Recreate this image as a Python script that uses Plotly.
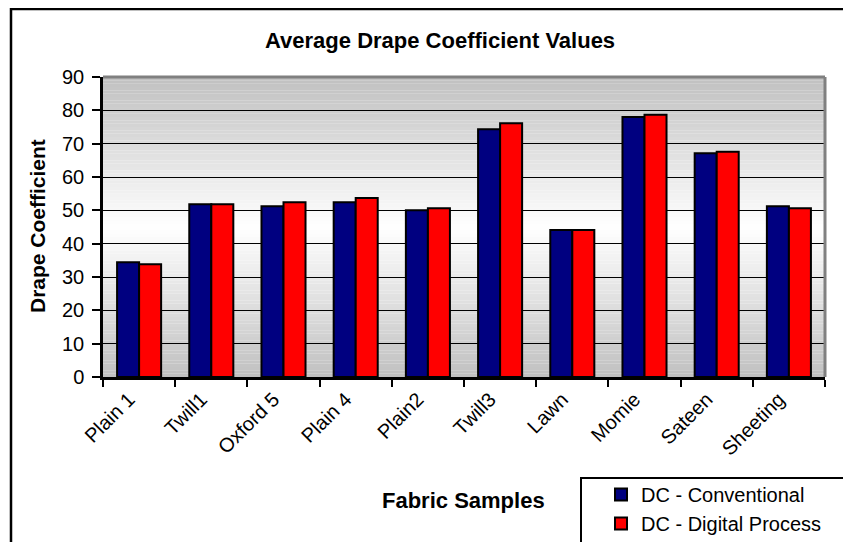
import plotly.graph_objects as go

categories = ["Plain 1", "Twill1", "Oxford 5", "Plain 4", "Plain2", "Twill3", "Lawn", "Momie", "Sateen", "Sheeting"]
dc_conventional = [34.4, 51.8, 51.2, 52.4, 50.0, 74.3, 44.1, 78.0, 67.1, 51.2]
dc_digital = [33.8, 51.8, 52.4, 53.7, 50.6, 76.1, 44.1, 78.7, 67.6, 50.6]
y_ticks = [0, 10, 20, 30, 40, 50, 60, 70, 80, 90]

FONT = "Liberation Sans, Arial, sans-serif"
OFF = 8  # page body margin
W, H = 851 - OFF, 542 - OFF
# plot area in page coordinates: x 103..825, y 77..377
L, T = 103 - OFF, 77 - OFF
R = W - (825 - OFF)
B = H - (377 - OFF)
PW, PH = W - L - R, H - T - B


def px(xp):
    return (xp - OFF - L) / PW


def py(yp):
    return (H - B - (yp - OFF)) / PH


fig = go.Figure()
fig.add_trace(go.Bar(name="DC - Conventional", x=categories, y=dc_conventional,
                     marker=dict(color="#000080", line=dict(color="black", width=2))))
fig.add_trace(go.Bar(name="DC - Digital Process", x=categories, y=dc_digital,
                     marker=dict(color="#FF0000", line=dict(color="black", width=2))))

shapes = []
# vertical gradient background (gray - white - gray)
for i in range(90):
    t = abs(i + 0.5 - 45) / 45.0
    c = int(round(255 - (255 - 192) * t))
    shapes.append(dict(type="rect", xref="x domain", yref="y", x0=0, x1=1, y0=i, y1=i + 1,
                       fillcolor=f"rgb({c},{c},{c})", line=dict(width=0), layer="below"))
# gray top/right border of plot area
shapes.append(dict(type="line", xref="x domain", yref="y domain", x0=0, x1=1, y0=1, y1=1,
                   line=dict(color="#808080", width=3), layer="above"))
shapes.append(dict(type="line", xref="x domain", yref="y domain", x0=1, x1=1, y0=0, y1=1,
                   line=dict(color="#808080", width=3), layer="above"))
# outer chart border
shapes.append(dict(type="rect", xref="paper", yref="paper", x0=px(11), x1=px(900), y0=py(600), y1=py(9),
                   line=dict(color="black", width=2.5), fillcolor="rgba(0,0,0,0)", layer="above"))
# legend box
shapes.append(dict(type="rect", xref="paper", yref="paper", x0=px(581), x1=px(900), y0=py(600), y1=py(478),
                   line=dict(color="black", width=2), fillcolor="white", layer="below"))

annotations = [
    dict(text="<b>Average Drape Coefficient Values</b>", xref="paper", yref="paper",
         x=px(440), y=py(40), xanchor="center", yanchor="middle", showarrow=False,
         font=dict(size=22, color="black", family=FONT)),
    dict(text="<b>Drape Coefficient</b>", xref="paper", yref="paper", textangle=-90,
         x=px(37), y=py(226), xanchor="center", yanchor="middle", showarrow=False,
         font=dict(size=21, color="black", family=FONT)),
    dict(text="<b>Fabric Samples</b>", xref="paper", yref="paper",
         x=px(463), y=py(500), xanchor="center", yanchor="middle", showarrow=False,
         font=dict(size=22, color="black", family=FONT)),
]

fig.update_layout(
    width=W, height=H,
    margin=dict(l=L, r=R, t=T, b=B, autoexpand=False),
    paper_bgcolor="white",
    plot_bgcolor="rgba(0,0,0,0)",
    barmode="group", bargap=0.39, bargroupgap=0,
    font=dict(family=FONT, size=20, color="black"),
    shapes=shapes,
    annotations=annotations,
    legend=dict(x=px(601), y=py(475), xanchor="left", yanchor="top",
                bgcolor="rgba(0,0,0,0)", borderwidth=0,
                font=dict(size=20, family=FONT, color="black")),
    showlegend=True,
)
fig.update_xaxes(
    type="category", showline=True, linecolor="black", linewidth=2.5,
    ticks="outside", tickson="boundaries", ticklen=7, tickwidth=2, tickcolor="black",
    tickangle=-45, tickfont=dict(size=20, family=FONT), showgrid=False,
    ticklabelshift=-10, automargin=False,
)
fig.update_yaxes(
    range=[0, 90], tickvals=y_ticks, showline=True, linecolor="black", linewidth=2.5,
    ticks="outside", ticklen=8, tickwidth=2, tickcolor="black",
    showgrid=True, gridcolor="black", gridwidth=1, zeroline=False,
    tickfont=dict(size=20, family=FONT), ticklabelstandoff=4, automargin=False,
)

fig.write_html("out.html")
